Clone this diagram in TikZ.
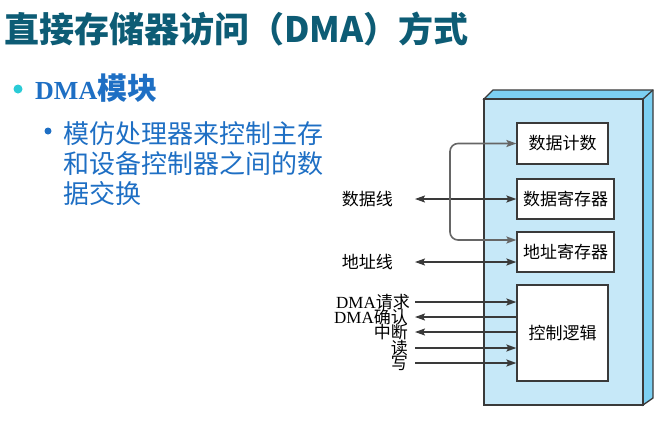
\documentclass[tikz,border=0pt]{standalone}
\usepackage{fontspec}
\usepackage{xcolor}
\usetikzlibrary{arrows.meta}
\setmainfont{Liberation Serif}
\newfontfamily\cjk{Noto Sans CJK SC}
\definecolor{titleteal}{HTML}{0D5C75}
\definecolor{itemblue}{HTML}{1E6FC4}
\definecolor{dotcyan}{HTML}{2ACBD6}
\definecolor{facefront}{HTML}{C6E8F8}
\definecolor{faceside}{HTML}{7CD0F3}
\definecolor{wiregray}{HTML}{3A3A3A}
\definecolor{loopgray}{HTML}{666666}

\begin{document}
\begin{tikzpicture}[x=1pt,y=-1pt,
  >={Stealth[length=10pt,width=7pt,inset=2pt]},
  regbox/.style={draw=wiregray,line width=1.2pt,fill=white,minimum height=40pt,inner sep=0pt,
    font=\fontsize{17}{17}\selectfont\cjk},
  siglabel/.style={inner xsep=4pt,inner ysep=0pt,font=\fontsize{17}{17}\selectfont},
  wire/.style={draw=wiregray,line width=1.6pt}]
\useasboundingbox[fill=white] (0,0) rectangle (670,421);
% Drawing title and items
\node[anchor=base west,inner sep=0pt,text=titleteal,font=\fontsize{35}{35}\selectfont\cjk\bfseries] (title) at (4,42) {直接存储器访问（DMA）方式};
\node[circle,fill=dotcyan,inner sep=0pt,minimum size=9pt] (dotA) at (18,89) {};
\node[anchor=base west,inner sep=0pt,text=itemblue] (itemA) at (35,99) {\fontsize{26}{26}\selectfont\bfseries DMA{\cjk\fontsize{30}{30}\selectfont 模块}};
\node[circle,fill=itemblue,inner sep=0pt,minimum size=7pt] (dotB) at (48,131) {};
\node[anchor=base west,inner sep=0pt,text=itemblue,font=\fontsize{26}{26}\selectfont\cjk] (itemBa) at (63,143) {模仿处理器来控制主存};
\node[anchor=base west,inner sep=0pt,text=itemblue,font=\fontsize{26}{26}\selectfont\cjk] (itemBb) at (63,173) {和设备控制器之间的数};
\node[anchor=base west,inner sep=0pt,text=itemblue,font=\fontsize{26}{26}\selectfont\cjk] (itemBc) at (63,203) {据交换};
% Drawing the DMA module body
\filldraw[fill=faceside,draw=wiregray,line width=1.3pt] (484,99) -- (493,90) -- (653,90) -- (653,398) -- (643,405) -- (643,99) -- cycle;
\draw[wiregray,line width=1.3pt] (643,99) -- (653,90);
\filldraw[fill=facefront,draw=wiregray,line width=1.6pt] (484,99) rectangle (643,405);
% Registers and control logic
\node[regbox,minimum width=91pt,minimum height=41pt] (count) at (562.5,143.5) {数据计数};
\node[regbox,minimum width=97pt] (datareg) at (565.5,199) {数据寄存器};
\node[regbox,minimum width=97pt] (addrreg) at (565.5,252) {地址寄存器};
\node[regbox,minimum width=91pt,minimum height=96pt] (ctrl) at (562.5,333) {控制逻辑};
% Data and address lines
\node[siglabel,anchor=east,font=\fontsize{17}{17}\selectfont\cjk] (datalbl) at (397,199) {数据线};
\node[siglabel,anchor=east,font=\fontsize{17}{17}\selectfont\cjk] (addrlbl) at (397,262) {地址线};
\coordinate (dataend) at (415,199);
\coordinate (addrend) at (415,262);
\draw[wire,<->] (dataend) -- (datareg.west);
\draw[wire,<->] (addrend) -- (addrend -| addrreg.west);
\draw[wire,draw=loopgray,<->,rounded corners=8pt] (count.west) -| (450,200) |- ([yshift=12pt]addrreg.west);
% Control signals
\node[siglabel,anchor=east] (req) at (414,302) {DMA{\cjk 请求}};
\node[siglabel,anchor=east] (ack) at (412,317) {DMA{\cjk 确认}};
\node[siglabel,anchor=east,font=\fontsize{17}{17}\selectfont\cjk] (intr) at (412,332) {中断};
\node[siglabel,anchor=east,font=\fontsize{17}{17}\selectfont\cjk] (rd) at (412,348) {读};
\node[siglabel,anchor=east,font=\fontsize{17}{17}\selectfont\cjk] (wr) at (412,363) {写};
\coordinate (reqend) at (415,302);
\coordinate (ackend) at (415,317);
\coordinate (intrend) at (415,332);
\coordinate (rdend) at (415,348);
\coordinate (wrend) at (415,363);
\draw[wire,->] (reqend) -- (reqend -| ctrl.west);
\draw[wire,<-] (ackend) -- (ackend -| ctrl.west);
\draw[wire,<-] (intrend) -- (intrend -| ctrl.west);
\draw[wire,->] (rdend) -- (rdend -| ctrl.west);
\draw[wire,->] (wrend) -- (wrend -| ctrl.west);
\end{tikzpicture}
\end{document}
